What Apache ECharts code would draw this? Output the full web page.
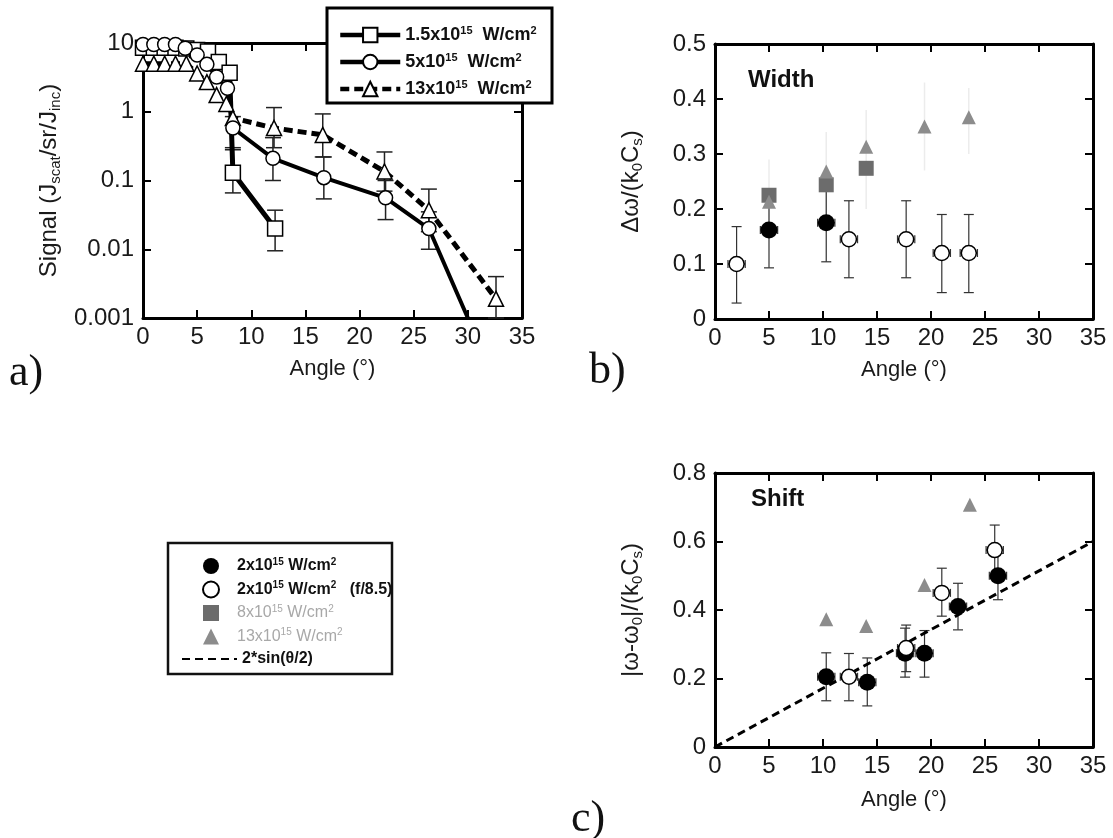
<!DOCTYPE html>
<html>
<head>
<meta charset="utf-8">
<script src="https://cdn.jsdelivr.net/npm/echarts@6/dist/echarts.min.js"></script>
<style>
html,body{margin:0;padding:0;background:#fff;}
#chart{width:1113px;height:838px;}
</style>
</head>
<body>
<div id="chart"></div>
<script>
var FONT = '"Liberation Sans", Arial, sans-serif';
var SERIF = '"Liberation Serif", "Times New Roman", serif';

// ---- panel a) signal vs angle (log) ----
var aNames = ['1.5', '5', '13'];
var aSquare = [[0,8.5],[1,8.5],[2,8.5],[3,8.5],[4,8.3],[5,7.9],[6,7.5],[7,5.3],[8,3.7],[8.3,0.13],[12.2,0.02]];
var aCircle = [[0,9.5],[1,9.5],[2,9.5],[3,9.5],[3.9,8.4],[5,6.7],[5.9,4.9],[6.8,3.2],[7.8,2.2],[8.3,0.58],[12,0.21],[16.7,0.11],[22.4,0.056],[26.4,0.02]];
var aCircleEnd = [30,0.001];
var aTriangle = [[0,5],[1,5],[2,5],[3,5],[4,5],[5,3.6],[5.9,2.7],[6.8,1.75],[7.7,1.3],[8.3,0.81],[12.1,0.58],[16.6,0.46],[22.3,0.135],[26.4,0.037],[32.6,0.0019]];
// [angle, low, high]
var aSquareErr = [[8.3,0.066,0.28],[12.2,0.0095,0.037]];
var aCircleErr = [[8.3,0.3,0.85],[12,0.1,0.42],[16.7,0.054,0.22],[22.4,0.027,0.1],[26.4,0.01,0.035]];
var aTriangleErr = [[12.1,0.3,1.15],[16.6,0.22,0.93],[22.3,0.07,0.26],[26.4,0.018,0.075],[32.6,0.001,0.004]];
var aYTicks = [0.001,0.01,0.1,1,10];
var aYLabels = ['0.001','0.01','0.1','1','10'];

// ---- panel b) width ----
var bFilled = [[5.0,0.162],[10.3,0.175]];
var bFilledErr = [[5.0,0.093,0.233],[10.3,0.104,0.245]];
var bOpen = [[2.0,0.10],[12.4,0.145],[17.7,0.145],[21.0,0.12],[23.5,0.12]];
var bOpenErr = [[2.0,0.029,0.168],[12.4,0.075,0.215],[17.7,0.075,0.215],[21.0,0.048,0.19],[23.5,0.048,0.19]];
var bSquare = [[5.0,0.225],[10.3,0.244],[14.0,0.274]];
var bTriangle = [[5.0,0.213],[10.3,0.268],[14.0,0.313],[19.4,0.35],[23.5,0.367]];
var bFaintErr = [[5.0,0.17,0.29],[10.3,0.18,0.34],[14.0,0.2,0.38],[19.4,0.27,0.43],[23.5,0.3,0.42]];

// ---- panel c) shift ----
var cFilled = [[10.3,0.205],[14.1,0.189],[17.6,0.274],[19.4,0.274],[22.5,0.41],[26.2,0.5]];
var cFilledErr = [[10.3,0.135,0.275],[14.1,0.12,0.26],[17.6,0.204,0.347],[19.4,0.204,0.34],[22.5,0.342,0.478],[26.2,0.43,0.565]];
var cOpen = [[12.4,0.205],[17.7,0.289],[21.0,0.45],[25.9,0.575]];
var cOpenErr = [[12.4,0.135,0.273],[17.7,0.22,0.356],[21.0,0.382,0.522],[25.9,0.5,0.648]];
var cTriangle = [[10.3,0.373],[14.0,0.353],[19.4,0.473],[23.6,0.707]];
var cTheory = [[0,0],[35,0.6]];
var hHalf = 0.8; // horizontal error half width (deg)

var cNames = ['2x10^15 W/cm^2', '2x10^15 W/cm^2   (f/8.5)', '8x10^15 W/cm^2', '13x10^15 W/cm^2'];
var cTheoryName = '2*sin(\u03b8/2)';

function supFmt(name, b, s) {
    return '{' + b + '|' + name.replace(/\^(\d+)/g, '}{' + s + '|$1}{' + b + '|') + '}';
}

function vErr(color, cap, lw) {
    return function (params, api) {
        var x = api.value(0), lo = api.value(1), hi = api.value(2);
        var t = api.coord([x, hi]), b = api.coord([x, lo]);
        var st = {stroke: color, lineWidth: lw};
        return {type: 'group', children: [
            {type: 'line', shape: {x1: t[0], y1: t[1], x2: b[0], y2: b[1]}, style: st},
            {type: 'line', shape: {x1: t[0] - cap, y1: t[1], x2: t[0] + cap, y2: t[1]}, style: st},
            {type: 'line', shape: {x1: b[0] - cap, y1: b[1], x2: b[0] + cap, y2: b[1]}, style: st}
        ]};
    };
}
function hErr(color, cap, lw) {
    return function (params, api) {
        var x = api.value(0), y = api.value(1);
        var l = api.coord([x - hHalf, y]), r = api.coord([x + hHalf, y]);
        var st = {stroke: color, lineWidth: lw};
        return {type: 'group', children: [
            {type: 'line', shape: {x1: l[0], y1: l[1], x2: r[0], y2: r[1]}, style: st},
            {type: 'line', shape: {x1: l[0], y1: l[1] - cap, x2: l[0], y2: l[1] + cap}, style: st},
            {type: 'line', shape: {x1: r[0], y1: r[1] - cap, x2: r[0], y2: r[1] + cap}, style: st}
        ]};
    };
}

var axisLine = {onZero: false, lineStyle: {color: '#000', width: 3}};
var axisTick = {inside: true, length: 8, lineStyle: {color: '#000', width: 2}};
var labelStyle = {fontFamily: FONT, fontSize: 24, color: '#1a1a1a'};

function xPair(g, gap) {
    return [
        {gridIndex: g, type: 'value', min: 0, max: 35, interval: 5, axisLine: axisLine, axisTick: axisTick,
         axisLabel: Object.assign({margin: 7}, labelStyle), splitLine: {show: false},
         name: 'Angle (\u00b0)', nameLocation: 'middle', nameGap: gap,
         nameTextStyle: {fontFamily: FONT, fontSize: 22, color: '#1a1a1a'}},
        {gridIndex: g, type: 'value', position: 'top', min: 0, max: 35, interval: 5, axisLine: axisLine,
         axisTick: axisTick, axisLabel: {show: false}, splitLine: {show: false}}
    ];
}
function yPair(g, base, label, name, gap) {
    var main = Object.assign({}, base, {gridIndex: g, axisLine: axisLine, axisTick: axisTick,
        axisLabel: Object.assign({margin: 9}, labelStyle, label), splitLine: {show: false},
        name: name, nameLocation: 'middle', nameGap: gap, nameRotate: 90,
        nameTextStyle: {fontFamily: FONT, color: '#1a1a1a', rich: {
            n: {fontFamily: FONT, fontSize: 24, color: '#1a1a1a'},
            d: {fontFamily: FONT, fontSize: 15, color: '#1a1a1a', padding: [12, 0, 0, 0]}
        }}});
    var mirror = Object.assign({}, base, {gridIndex: g, position: 'right', axisLine: axisLine, axisTick: axisTick,
        axisLabel: {show: false}, splitLine: {show: false}});
    return [main, mirror];
}

var xAxes = [].concat(xPair(0, 40), xPair(1, 40), xPair(2, 42));
var yAxes = [].concat(
    yPair(0, {type: 'log', logBase: 10, min: 0.001, max: 10, minorTick: {show: false}},
        {formatter: function (v) {
            for (var i = 0; i < aYTicks.length; i++) {
                if (Math.abs(Math.log10(v) - Math.log10(aYTicks[i])) < 0.01) return aYLabels[i];
            }
            return '';
        }},
        '{n|Signal (J}{d|scat}{n|/sr/J}{d|inc}{n|)}', 80),
    yPair(1, {type: 'value', min: 0, max: 0.5, interval: 0.1}, {}, '{n|\u0394\u03c9/(k}{d|0}{n|C}{d|s}{n|)}', 70),
    yPair(2, {type: 'value', min: 0, max: 0.8, interval: 0.2}, {}, '{n||\u03c9-\u03c9}{d|0}{n||/(k}{d|0}{n|C}{d|s}{n|)}', 70)
);

var openStyle = {color: '#fff', borderColor: '#000', borderWidth: 1.5, opacity: 1};

function lineSeries(name, data, symbol, size, width, type) {
    return {type: 'line', name: name, xAxisIndex: 0, yAxisIndex: 0, data: data, symbol: symbol, symbolSize: size,
        showSymbol: true, animation: false, z: 3,
        lineStyle: {color: '#000', width: width, type: type},
        itemStyle: openStyle};
}
function errSeries(x, y, data, fn, enc) {
    return {type: 'custom', xAxisIndex: x, yAxisIndex: y, data: data, renderItem: fn, encode: enc,
        animation: false, z: 1, silent: true};
}
function scatter(name, x, y, data, symbol, size, style) {
    return {type: 'scatter', name: name, xAxisIndex: x, yAxisIndex: y, data: data, symbol: symbol,
        symbolSize: size, itemStyle: style, animation: false, z: 3};
}
var vEnc = {x: 0, y: [1, 2]};
var hEnc = {x: 0, y: 1};
var black = {color: '#000', opacity: 1};
var greySq = {color: '#6c6c6c', opacity: 1};
var greyTri = {color: '#8c8c8c', opacity: 1};

var series = [
    errSeries(0, 0, aSquareErr, vErr('#222', 8, 1.5), vEnc),
    errSeries(0, 0, aCircleErr, vErr('#222', 8, 1.5), vEnc),
    errSeries(0, 0, aTriangleErr, vErr('#222', 8, 1.5), vEnc),
    lineSeries(aNames[0], aSquare, 'rect', 15, 5, 'solid'),
    lineSeries(aNames[2], aTriangle, 'triangle', 15, 5, [9, 5]),
    lineSeries(aNames[1], aCircle.concat([{value: aCircleEnd, symbol: 'none'}]), 'circle', 14, 4, 'solid'),

    errSeries(2, 2, bFaintErr, vErr('#ececec', 0, 1.5), vEnc),
    errSeries(2, 2, bFilledErr, vErr('#333', 5, 1.2), vEnc),
    errSeries(2, 2, bOpenErr, vErr('#333', 5, 1.2), vEnc),
    errSeries(2, 2, bFilled, hErr('#333', 4, 1.2), hEnc),
    errSeries(2, 2, bOpen, hErr('#333', 4, 1.2), hEnc),
    scatter(cNames[2], 2, 2, bSquare, 'rect', 15, greySq),
    scatter(cNames[3], 2, 2, bTriangle, 'triangle', 14, greyTri),
    scatter(cNames[0], 2, 2, bFilled, 'circle', 17, black),
    scatter(cNames[1], 2, 2, bOpen, 'circle', 15, openStyle),

    {type: 'line', name: cTheoryName, xAxisIndex: 4, yAxisIndex: 4, data: cTheory, symbol: 'none',
        lineStyle: {color: '#000', width: 3, type: [8, 5]}, itemStyle: {color: '#000'}, animation: false, z: 2},
    errSeries(4, 4, cFilledErr, vErr('#333', 5, 1.2), vEnc),
    errSeries(4, 4, cOpenErr, vErr('#333', 5, 1.2), vEnc),
    errSeries(4, 4, cFilled, hErr('#333', 4, 1.2), hEnc),
    errSeries(4, 4, cOpen, hErr('#333', 4, 1.2), hEnc),
    scatter(cNames[3], 4, 4, cTriangle, 'triangle', 14, greyTri),
    scatter(cNames[0], 4, 4, cFilled, 'circle', 17, black),
    scatter(cNames[1], 4, 4, cOpen, 'circle', 15, openStyle)
];

var legRich = {
    p: {width: 13},
    b: {fontFamily: FONT, fontSize: 16, fontWeight: 'bold', color: '#111', lineHeight: 18},
    s: {fontFamily: FONT, fontSize: 10, fontWeight: 'bold', color: '#111', lineHeight: 10, padding: [0, 0, 8, 0]},
    g: {fontFamily: FONT, fontSize: 16, color: '#a8a8a8', lineHeight: 18},
    gs: {fontFamily: FONT, fontSize: 10, color: '#a8a8a8', lineHeight: 10, padding: [0, 0, 8, 0]},
    ab: {fontFamily: FONT, fontSize: 18, fontWeight: 'bold', color: '#111', lineHeight: 18},
    as: {fontFamily: FONT, fontSize: 11, fontWeight: 'bold', color: '#111', lineHeight: 10, padding: [0, 0, 9, 0]}
};

var option = {
    backgroundColor: '#fff',
    animation: false,
    grid: [
        {left: 143, top: 43, width: 379, height: 275},
        {left: 715, top: 44, width: 378, height: 275},
        {left: 715, top: 473, width: 378, height: 274}
    ],
    xAxis: xAxes,
    yAxis: yAxes,
    title: [
        {text: 'a)', left: 4, top: 346, textStyle: {fontFamily: SERIF, fontSize: 44, fontWeight: 'normal', color: '#111'}},
        {text: 'b)', left: 584, top: 344, textStyle: {fontFamily: SERIF, fontSize: 44, fontWeight: 'normal', color: '#111'}},
        {text: 'c)', left: 566, top: 792, textStyle: {fontFamily: SERIF, fontSize: 44, fontWeight: 'normal', color: '#111'}},
        {text: 'Width', left: 743, top: 63, textStyle: {fontFamily: FONT, fontSize: 24, fontWeight: 'bold', color: '#111'}},
        {text: 'Shift', left: 746, top: 482, textStyle: {fontFamily: FONT, fontSize: 24, fontWeight: 'bold', color: '#111'}}
    ],
    graphic: [
        {type: 'rect', z: 3, shape: {x: 327, y: 8, width: 225, height: 95}, style: {fill: '#fff', stroke: '#000', lineWidth: 3}},
        {type: 'rect', z: 3, shape: {x: 168, y: 543, width: 224, height: 131}, style: {fill: '#fff', stroke: '#111', lineWidth: 2.5}}
    ],
    legend: [
        {left: 333, top: 20, orient: 'vertical', itemWidth: 60, itemHeight: 18, itemGap: 7, selectedMode: false,
         data: aNames, lineStyle: {width: 4.5},
         formatter: function (n) { return supFmt(n + 'x10^15  W/cm^2', 'ab', 'as'); },
         textStyle: {rich: legRich}},
        {left: 197, top: 552, orient: 'vertical', itemWidth: 16, itemHeight: 16, itemGap: 5.5, selectedMode: false,
         data: cNames, formatter: function (n) {
             var grey = cNames.indexOf(n) >= 2;
             return '{p|}' + supFmt(n, grey ? 'g' : 'b', grey ? 'gs' : 's');
         },
         textStyle: {rich: legRich}},
        {left: 176, top: 646, itemWidth: 55, itemHeight: 16, selectedMode: false,
         data: [{name: cTheoryName, itemStyle: {opacity: 0}}], lineStyle: {width: 2},
         textStyle: {fontFamily: FONT, fontSize: 16, fontWeight: 'bold', color: '#111'}}
    ],
    series: series
};

var chart = echarts.init(document.getElementById('chart'));
chart.setOption(option);
</script>
</body>
</html>
